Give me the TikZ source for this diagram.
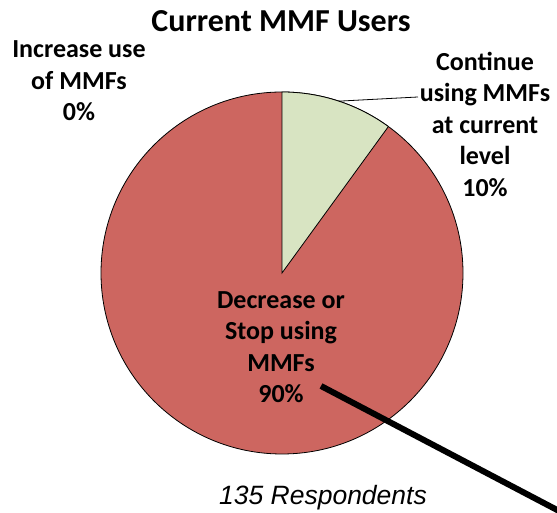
\documentclass[tikz,border=0pt]{standalone}
\usepackage{fontspec}
\setmainfont{Carlito}
\newfontfamily\arialf{Liberation Sans}
\definecolor{piered}{RGB}{205,102,96}
\definecolor{piegreen}{RGB}{216,228,194}
\begin{document}
\begin{tikzpicture}[x=1pt,y=1pt,
  lbl/.style={align=center,font=\fontsize{26}{31.5}\selectfont\bfseries,inner sep=0pt},
  ttl/.style={font=\fontsize{32}{38}\selectfont\bfseries,inner sep=0pt}]
\useasboundingbox (0,0) rectangle (557,513);
\coordinate (c) at (282,240);
\filldraw[fill=piered, draw=black, line width=0.8pt] (c) circle (181);
\filldraw[fill=piegreen, draw=black, line width=0.8pt] (c) -- ++(90:181) arc (90:54:181) -- cycle;
\node[ttl] (title) at (281,492) {Current MMF Users};
\node[lbl] (inc) at (79,432) {Increase use\\of MMFs\\0\%};
\node[lbl] (cont) at (485,389) {Continue\\using MMFs\\at current\\level\\10\%};
\node[lbl] (dec) at (281,166) {Decrease or\\Stop using\\MMFs\\90\%};
\node[font=\arialf\itshape\fontsize{26.5}{31}\selectfont,inner sep=0pt] (resp) at (323,15) {135 Respondents};
\coordinate (p1) at ([shift={(71.7:181)}]c);
\coordinate (p2) at (418,416);
\draw[line width=0.8pt] (p1) -- (p2);
\begin{scope}
\clip (0,0) rectangle (557,513);
\coordinate (t1) at (321,127);
\coordinate (t2) at (580,-9);
\draw[line width=6pt] (t1) -- (t2);
\end{scope}
\end{tikzpicture}
\end{document}
